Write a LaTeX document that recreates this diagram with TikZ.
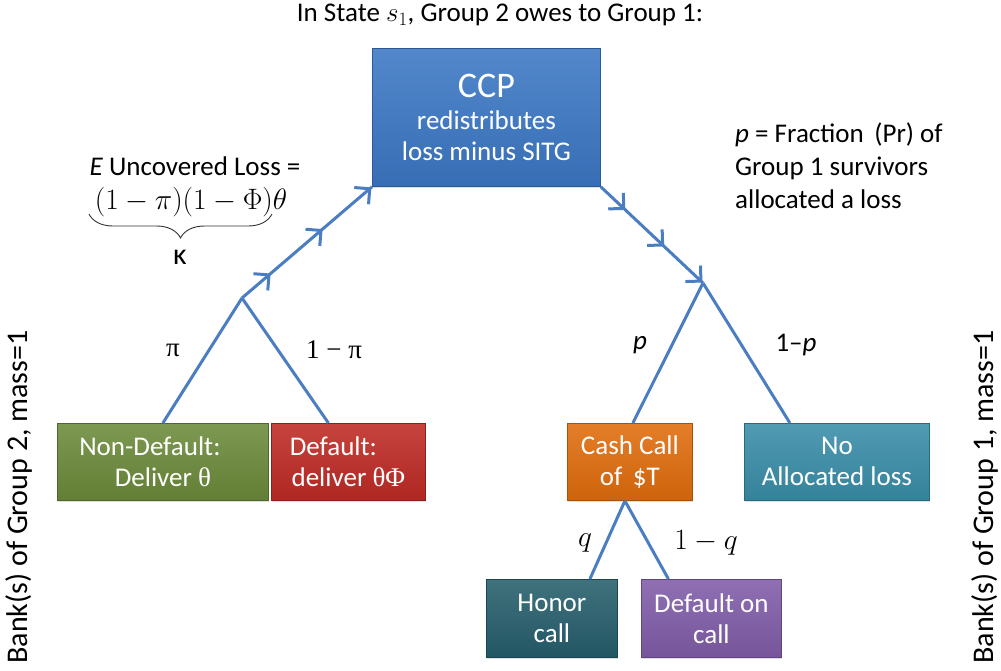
\RequirePackage{fix-cm}
\documentclass[tikz,border=0pt]{standalone}
\usepackage{fontspec}
\setmainfont{Carlito}
\newfontfamily\serif{Liberation Serif}
\usetikzlibrary{arrows.meta,decorations.markings,decorations.pathreplacing,shadows}
\definecolor{edgeblue}{RGB}{74,126,193}
\definecolor{ccpblue}{RGB}{59,119,196}
\definecolor{ndgreen}{RGB}{107,138,58}
\definecolor{dfred}{RGB}{190,42,36}
\definecolor{cashorange}{RGB}{224,108,12}
\definecolor{noateal}{RGB}{57,141,168}
\definecolor{honteal}{RGB}{38,94,108}
\definecolor{dfcpurple}{RGB}{128,92,168}
\tikzset{
  box/.style={draw=#1!75!black, line width=0.8pt, top color=#1!88!white, bottom color=#1!92!black,
    text=white, align=center, inner sep=0pt, anchor=north west,
    font=\fontsize{27}{31}\selectfont,
    drop shadow={shadow xshift=1pt, shadow yshift=-2pt, opacity=0.25}},
  lbl/.style={font=\fontsize{27}{32}\selectfont, inner sep=0pt},
  mlbl/.style={font=\fontsize{29.5}{32}\selectfont, inner sep=0pt},
  branch/.style={draw=edgeblue, line width=3pt},
  flowtip/.tip={Straight Barb[length=11pt,width=22pt]},
  flow/.style={draw=edgeblue, line width=3pt, postaction={decorate},
    decoration={markings,
      mark=at position #1 with {\arrow{flowtip}},
      mark=at position 0.62 with {\arrow{flowtip}},
      mark=at position 0.995 with {\arrow{flowtip}}}},
}
\begin{document}
\begin{tikzpicture}[x=1pt,y=-1pt]
\useasboundingbox (0,0) rectangle (1001,670);

% title
\node[lbl, anchor=base] (title) at (500,21) {In State $s_1$, Group 2 owes to Group 1:};

% boxes
\node[box=ccpblue, minimum width=228pt, minimum height=138pt] (ccp) at (372,48)
  {{\fontsize{36}{38}\selectfont CCP}\\[1pt]redistributes\\loss minus SITG};
\node[box=ndgreen, minimum width=211pt, minimum height=77pt] (nd) at (57,423)
  {Non-Default:\hspace*{26pt}\\Deliver {\serif θ}};
\node[box=dfred, minimum width=154pt, minimum height=77pt] (df) at (271,423)
  {Default:\hspace*{30pt}\\deliver {\serif θΦ}};
\node[box=cashorange, minimum width=125pt, minimum height=77pt] (cash) at (567,423)
  {Cash Call\\of\, \$T};
\node[box=noateal, minimum width=185pt, minimum height=77pt] (noa) at (744,423)
  {No\\Allocated loss};
\node[box=honteal, minimum width=131pt, minimum height=78pt] (hon) at (486,579)
  {Honor\\call};
\node[box=dfcpurple, minimum width=140pt, minimum height=78pt] (dfc) at (641,579)
  {Default on\\call};

% junction points
\coordinate (apexL) at (242,298);
\coordinate (apexR) at (703,283);

% flows to and from CCP
\draw[flow=0.22] (apexL) -- (ccp.south west);
\draw[flow=0.24] (ccp.south east) -- (apexR);

% branches
\draw[branch] (apexL) -- (nd.north);
\draw[branch] (apexL) -- ([xshift=-20pt]df.north);
\draw[branch] (apexR) -- ([xshift=3pt]cash.north);
\draw[branch] (apexR) -- ([xshift=-47pt]noa.north);
\draw[branch] ([xshift=-5pt]cash.south) -- ([xshift=38pt]hon.north);
\draw[branch] ([xshift=-5pt]cash.south) -- ([xshift=-43pt]dfc.north);

% branch labels
\node[lbl] (lpi) at (173,350) {\serif π};
\node[lbl] (l1pi) at (334,350) {\serif 1 − π};
\node[lbl] (lp) at (640,345) {\textit{p}};
\node[lbl] (l1p) at (796,345) {1–\textit{p}};
\node[mlbl] (lq) at (585,543) {$q$};
\node[mlbl] (l1q) at (706,543) {$1-q$};

% expected uncovered loss
\node[lbl, anchor=base] (eul) at (195,175) {\textit{E} Uncovered Loss =};
\node[mlbl] (eulm) at (191,202) {$(1-\pi)(1-\Phi)\theta$};
\coordinate (brL) at (89,214);
\coordinate (brR) at (272,214);
\draw[line width=0.9pt, black!80, decorate, decoration={brace, mirror, amplitude=24pt, aspect=0.5}] (brL) -- (brR);
\node[lbl, font=\fontsize{30}{32}\selectfont] (kappa) at (180,257) {κ};

% p description
\node[lbl, anchor=west, align=left, font=\fontsize{27}{33}\selectfont] (pdesc) at (735,166)
  {\textit{p} = Fraction\, (Pr) of\\Group 1 survivors\\allocated a loss};

% side labels
\node[lbl, rotate=90, font=\fontsize{30}{32}\selectfont] (g2) at (19,497) {Bank(s) of Group 2, mass=1};
\node[lbl, rotate=90, font=\fontsize{30}{32}\selectfont] (g1) at (985,497) {Bank(s) of Group 1, mass=1};
\end{tikzpicture}
\end{document}
